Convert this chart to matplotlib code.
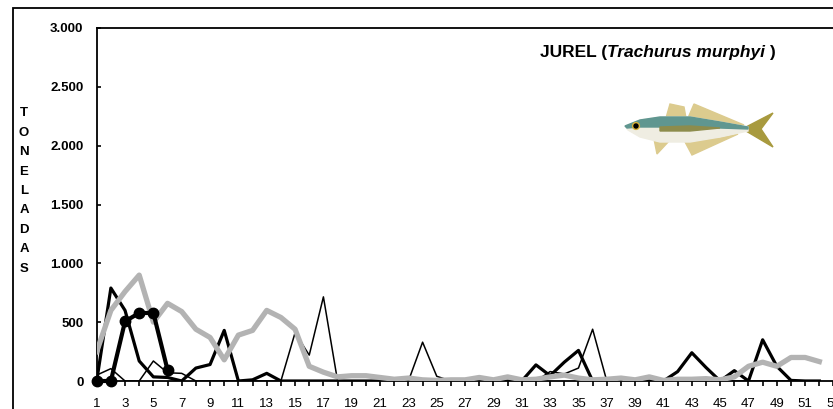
import numpy as np
import matplotlib.pyplot as plt
from matplotlib.patches import Polygon, Rectangle, Circle
from matplotlib.ticker import FuncFormatter

# ------------------ Data (toneladas por semana) ------------------
semanas = np.arange(1, 53)

serie_gris = [250, 600, 760, 900, 500, 660, 590, 440, 370, 180,
              390, 430, 600, 540, 440, 125, 75, 35, 45, 45,
              30, 15, 25, 10, 5, 10, 10, 30, 10, 35,
              10, 15, 35, 50, 25, 10, 15, 25, 10, 35,
              5, 15, 15, 20, 10, 35, 125, 160, 125, 200,
              200, 165]

serie_gruesa = [0, 790, 600, 170, 35, 30, 0, 110, 140, 430,
                0, 10, 65, 0, 0, 0, 0, 0, 0, 0,
                0, 0, 10, 0, 0, 0, 0, 0, 0, 0,
                0, 137, 45, 160, 260, 0, 0, 0, 0, 0,
                0, 80, 240, 115, 0, 88, 0, 350, 125, 5,
                0, 0]

serie_fina = [50, 105, 0, 0, 170, 70, 65, 0, 0, 0,
              0, 0, 0, 0, 410, 220, 715, 0, 0, 0,
              0, 0, 0, 330, 40, 0, 0, 0, 0, 0,
              0, 0, 80, 60, 110, 440, 0, 0, 0, 0,
              0, 0, 0, 0, 0, 0, 0, 0, 0, 0,
              0, 0]

semanas_actual = [1, 2, 3, 4, 5, 6]
serie_actual = [0, 0, 507, 578, 578, 94]

y_ticks = [0, 500, 1000, 1500, 2000, 2500, 3000]

# ------------------ Figure ------------------
W, H = 833, 409
fig = plt.figure(figsize=(W / 100, H / 100), dpi=100)
plt.rcParams['font.family'] = 'Liberation Sans'

# outer frame of the chart
fig.patches.append(Rectangle((13 / W, -0.1), 1.0, 1 - 8 / H + 0.1,
                             transform=fig.transFigure, fill=False,
                             lw=1.3, ec='black'))

x0, x1 = 96.7, 833.5
y_top, y_bot = 28, 381
ax = fig.add_axes([x0 / W, 1 - y_bot / H, (x1 - x0) / W, (y_bot - y_top) / H])

ax.plot(semanas, serie_fina, color='black', lw=1.1, zorder=2)
ax.plot(semanas, serie_gruesa, color='black', lw=2.3, zorder=3)
ax.plot(semanas, serie_gris, color='#b3b3b3', lw=3.8, zorder=4)
ax.plot(semanas_actual, serie_actual, color='black', lw=3.0, marker='o',
        markersize=7.5, zorder=5, clip_on=False)

ax.set_xlim(1, 53)
ax.set_ylim(0, 3000)

ax.spines['right'].set_visible(False)
for s in ['left', 'top', 'bottom']:
    ax.spines[s].set_linewidth(1.3)

ax.set_yticks(y_ticks)
ax.yaxis.set_major_formatter(FuncFormatter(lambda v, p: f"{int(v):,}".replace(',', '.')))
ax.tick_params(axis='y', direction='in', length=3, width=1.2, pad=9.5, labelsize=9.5)
for lab in ax.get_yticklabels():
    lab.set_fontweight('bold')

ax.set_xticks(np.arange(1, 54))
ax.set_xticklabels([str(n) if n % 2 == 1 else '' for n in range(1, 54)])
ax.tick_params(axis='x', direction='out', length=3.5, width=1.2, pad=9, labelsize=9.5)

# vertical stacked y label
fig.text(24 / W, 1 - 191 / H, "\n".join("TONELADAS"), ha='center', va='center',
         fontsize=9.5, fontweight='bold', linespacing=1.82)

# title with italic species name
t1 = ax.text(0.6017, 0.918, "JUREL (", transform=ax.transAxes, ha='left',
             va='baseline', fontsize=12.5, fontweight='bold')
t2 = ax.annotate("Trachurus murphyi", xy=(1, 0), xycoords=t1, ha='left',
                 va='bottom', fontsize=12.5, fontweight='bold', fontstyle='italic')
t3 = ax.annotate(" )", xy=(1, 0), xycoords=t2, ha='left', va='bottom',
                 fontsize=12.5, fontweight='bold')

# ------------------ Fish sketch ------------------
fx = fig.add_axes([620 / W, 1 - 160 / H, 160 / W, 60 / H])
fx.set_xlim(0, 160)
fx.set_ylim(0, 60)
fx.axis('off')
aleta = '#dccb8e'
fx.add_patch(Polygon([(46, 42), (50, 56), (64, 53), (66, 42)], color=aleta))
fx.add_patch(Polygon([(68, 42), (74, 56), (124, 35), (100, 38)], color=aleta))
fx.add_patch(Polygon([(64, 20), (72, 5), (118, 26), (100, 22)], color=aleta))
fx.add_patch(Polygon([(34, 21), (37, 6), (50, 20)], color=aleta))
fx.add_patch(Polygon([(126, 33), (153, 47), (141, 31), (153, 13), (126, 29)],
                     color='#a89a3e'))
cuerpo = [(5, 34), (20, 40), (40, 43), (70, 43), (100, 38), (128, 33),
          (128, 29), (100, 23), (70, 18), (40, 18), (20, 23), (8, 30)]
fx.add_patch(Polygon(cuerpo, color='#efede2'))
lomo = [(5, 34), (20, 40), (40, 43), (70, 43), (100, 38), (128, 33),
        (128, 31), (100, 32), (70, 34), (40, 33), (20, 33), (7, 32)]
fx.add_patch(Polygon(lomo, color='#5f9690'))
fx.add_patch(Polygon([(40, 33), (70, 34), (100, 32), (70, 29), (40, 29)],
                     color='#8d8c4c'))
fx.add_patch(Circle((16, 34), 3.4, color='#d9b23a'))
fx.add_patch(Circle((16, 34), 2.0, color='black'))

fig.savefig('out.png', dpi=100)
